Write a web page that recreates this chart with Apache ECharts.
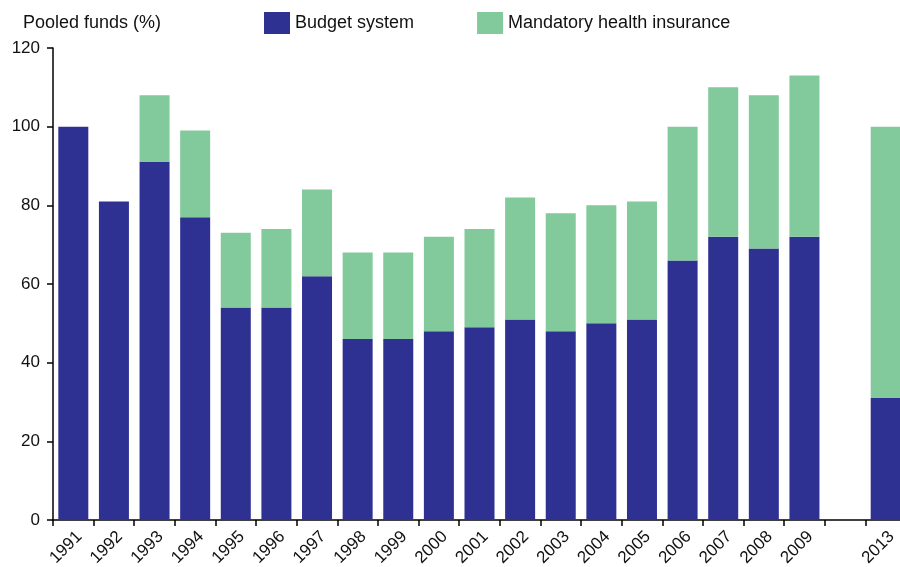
<!DOCTYPE html>
<html>
<head>
<meta charset="utf-8">
<script src="https://cdn.jsdelivr.net/npm/echarts@6/dist/echarts.min.js"></script>
<style>html,body{margin:0;padding:0;background:#fff}#c{width:900px;height:567px}</style>
</head>
<body>
<div id="c"></div>
<script>
var years = ['1991','1992','1993','1994','1995','1996','1997','1998','1999','2000','2001','2002','2003','2004','2005','2006','2007','2008','2009','','2013'];
var budget = [100,81,91,77,54,54,62,46,46,48,49,51,48,50,51,66,72,69,72,null,31];
var mhi = [null,null,17,22,19,20,22,22,22,24,25,31,30,30,30,34,38,39,41,null,69];
var yTicks = [0,20,40,60,80,100,120];

var chart = echarts.init(document.getElementById('c'), null, {renderer:'canvas'});
var font = 'Liberation Sans, Arial, Helvetica, sans-serif';
chart.setOption({
  animation:false,
  title:{text:'Pooled funds (%)', left:18, top:9, textStyle:{fontFamily:font, fontSize:18, fontWeight:'normal', color:'#111'}},
  legend:{left:259, top:7, itemWidth:26, itemHeight:22, itemGap:63, icon:'rect',
    textStyle:{fontFamily:font, fontSize:18, color:'#111'},
    data:['Budget system','Mandatory health insurance']},
  grid:{left:53, width:853, top:48, bottom:47, containLabel:false, outerBoundsMode:'none'},
  xAxis:{type:'category', data:years,
    axisLine:{lineStyle:{color:'#000', width:1.5}},
    axisTick:{show:true, interval:0, length:6, lineStyle:{color:'#000', width:1.5}},
    axisLabel:{interval:0, rotate:45, fontFamily:font, fontSize:17, color:'#111', margin:8, verticalAlign:'top'}},
  yAxis:{type:'value', min:yTicks[0], max:yTicks[yTicks.length-1], interval:20,
    splitLine:{show:false},
    axisLine:{show:true, lineStyle:{color:'#000', width:1.5}},
    axisTick:{show:true, length:6, lineStyle:{color:'#000', width:1.5}},
    axisLabel:{fontFamily:font, fontSize:17, color:'#111', margin:13}},
  series:[
    {name:'Budget system', type:'bar', stack:'a', data:budget, barWidth:30, itemStyle:{color:'#2E3192'}},
    {name:'Mandatory health insurance', type:'bar', stack:'a', data:mhi, barWidth:30, itemStyle:{color:'#82C99C'}}
  ]
});
</script>
</body>
</html>
